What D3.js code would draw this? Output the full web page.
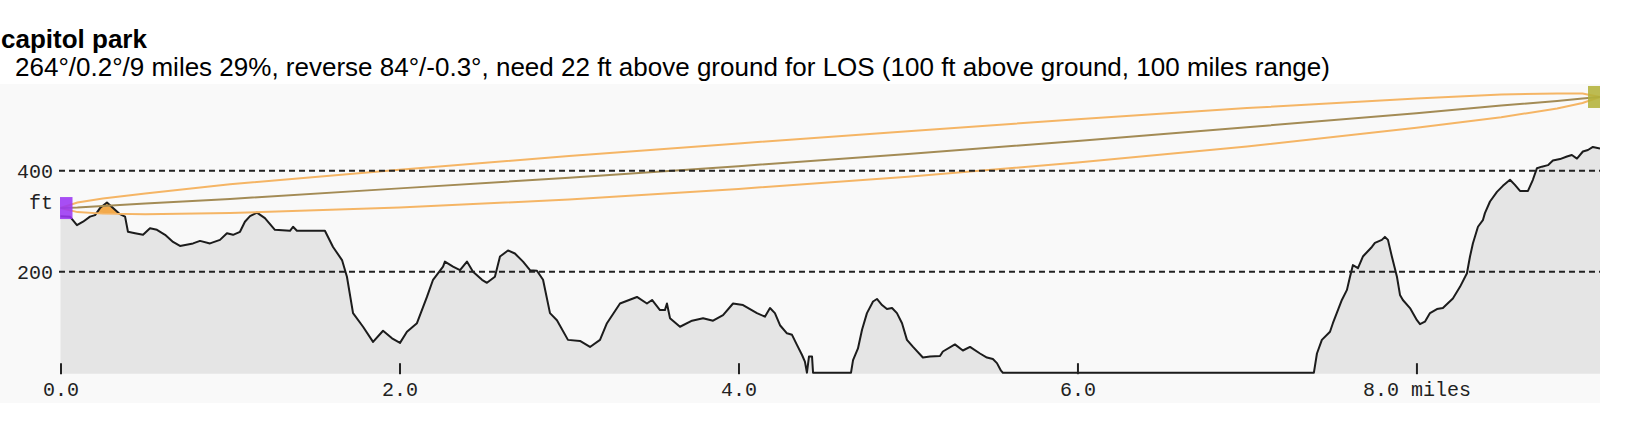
<!DOCTYPE html>
<html>
<head>
<meta charset="utf-8">
<script src="https://cdn.jsdelivr.net/npm/d3@7"></script>
<style>
  body { margin: 0; background: #fff; }
  svg { display: block; }
  .title { font: bold 26px "Liberation Sans", Arial, sans-serif; fill: #000; }
  .subtitle { font: 26px "Liberation Sans", Arial, sans-serif; fill: #000; }
  .mono { font: 20px "Liberation Mono", "DejaVu Sans Mono", monospace; fill: #222; }
</style>
</head>
<body>
<div id="chart"></div>
<script>
// terrain profile (distance in miles, elevation in ft)
const terrainMiles = [0, 0.056, 0.097, 0.133, 0.174, 0.204, 0.233, 0.274, 0.310, 0.351,
  0.381, 0.398, 0.440, 0.487, 0.528, 0.569, 0.617, 0.664, 0.705, 0.782,
  0.823, 0.882, 0.941, 0.982, 1.018, 1.059, 1.088, 1.118, 1.159, 1.206,
  1.265, 1.354, 1.372, 1.395, 1.560, 1.608, 1.661, 1.690, 1.726, 1.785,
  1.844, 1.903, 1.956, 2.003, 2.044, 2.103, 2.162, 2.198, 2.257, 2.268,
  2.316, 2.357, 2.398, 2.434, 2.487, 2.516, 2.563, 2.593, 2.640, 2.681,
  2.729, 2.770, 2.811, 2.847, 2.888, 2.929, 2.994, 3.065, 3.124, 3.183,
  3.224, 3.301, 3.401, 3.460, 3.490, 3.537, 3.566, 3.578, 3.596, 3.655,
  3.726, 3.791, 3.850, 3.909, 3.968, 4.027, 4.109, 4.156, 4.186, 4.215,
  4.245, 4.286, 4.316, 4.345, 4.375, 4.392, 4.404, 4.416, 4.434, 4.440,
  4.664, 4.676, 4.705, 4.729, 4.758, 4.794, 4.817, 4.847, 4.876, 4.906,
  4.935, 4.965, 4.994, 5.030, 5.088, 5.130, 5.189, 5.206, 5.277, 5.324,
  5.366, 5.425, 5.466, 5.501, 5.525, 5.549, 5.560, 7.395, 7.413, 7.442,
  7.490, 7.507, 7.560, 7.590, 7.608, 7.625, 7.655, 7.684, 7.737, 7.755,
  7.796, 7.814, 7.832, 7.855, 7.885, 7.903, 7.920, 7.962, 8.003, 8.021,
  8.050, 8.080, 8.121, 8.156, 8.215, 8.257, 8.298, 8.316, 8.333, 8.363,
  8.392, 8.404, 8.434, 8.475, 8.510, 8.552, 8.581, 8.611, 8.658, 8.687,
  8.711, 8.740, 8.776, 8.805, 8.847, 8.888, 8.917, 8.947, 8.982, 9.012,
  9.041, 9.083];
const terrainFeet = [310, 309, 292, 299, 309, 312, 326, 337, 326, 314,
  309, 279, 276, 273, 286, 283, 273, 259, 251, 256,
  261, 256, 263, 276, 273, 279, 299, 310, 317, 306,
  283, 281, 289, 281, 281, 249, 223, 190, 118, 91,
  61, 83, 68, 59, 81, 98, 150, 184, 210, 220,
  210, 203, 220, 200, 184, 178, 190, 230, 242, 236,
  220, 203, 202, 184, 118, 104, 65, 63, 51, 65,
  98, 137, 150, 137, 144, 124, 124, 137, 108, 91,
  103, 108, 103, 114, 137, 134, 118, 111, 128, 118,
  94, 78, 75, 55, 35, 22, 0, 32, 32, 0,
  0, 25, 48, 85, 118, 141, 146, 134, 126, 128,
  118, 98, 65, 51, 30, 32, 33, 42, 56, 44,
  51, 38, 30, 27, 19, 4, 0, 0, 38, 65,
  81, 98, 144, 164, 190, 213, 207, 230, 249, 257,
  263, 269, 263, 230, 190, 154, 144, 128, 104, 96,
  101, 118, 126, 128, 147, 170, 197, 230, 256, 289,
  302, 316, 339, 358, 370, 382, 372, 360, 360, 382,
  405, 408, 411, 420, 423, 428, 431, 424, 438, 441,
  447, 444];

// line of sight and fresnel zone edges (ft), sampled along the path
const losMiles = [0, 0.1, 0.25, 0.5, 1, 2, 3, 4, 5, 6, 7, 8, 8.5, 8.83, 8.98, 9.083];
const losFeet = [326, 327, 330, 335, 344, 365, 386, 409, 433, 459, 486, 514, 529, 538, 543, 546];
const fresnelTop = [326, 337, 345, 355, 373, 402, 429, 454, 478, 502, 524, 543, 551, 553, 553, 546];
const fresnelBottom = [326, 318, 315, 314, 316, 327, 343, 364, 388, 416, 448, 485, 506, 523, 534, 546];

const gridFeet = [200, 400];
const tickMiles = [0, 2, 4, 6, 8];
const tickLabels = ["0.0", "2.0", "4.0", "6.0", "8.0 miles"];

const titleText = "capitol park";
const subtitleText = "264°/0.2°/9 miles 29%, reverse 84°/-0.3°, need 22 ft above ground for LOS (100 ft above ground, 100 miles range)";

const width = 1626, height = 432;
const plot = { left: 60, right: 1600, top: 84, bottom: 403 };
const totalMiles = terrainMiles[terrainMiles.length - 1];

const x = d3.scaleLinear().domain([0, totalMiles]).range([60.5, 1600]);
const y = d3.scaleLinear().domain([0, 400]).range([372.7, 170.7]);

const terrain = terrainMiles.map((m, i) => ({ mi: m, ft: terrainFeet[i] }));
const los = losMiles.map((m, i) => ({ mi: m, c: losFeet[i], top: fresnelTop[i], bot: fresnelBottom[i] }));

const svg = d3.select("#chart").append("svg")
  .attr("width", width)
  .attr("height", height);

const defs = svg.append("defs");
defs.append("clipPath").attr("id", "plotClip")
  .append("rect")
  .attr("x", plot.left).attr("y", plot.top)
  .attr("width", plot.right - plot.left).attr("height", plot.bottom - plot.top);

// area above the lower fresnel edge, used to colour terrain that intrudes
defs.append("clipPath").attr("id", "fresnelClip")
  .append("path")
  .attr("d", d3.area()
    .x(d => x(d.mi))
    .y0(plot.top)
    .y1(d => y(d.bot))(los));

svg.append("text").attr("class", "title")
  .attr("x", 1).attr("y", 48)
  .text(titleText);

svg.append("text").attr("class", "subtitle")
  .attr("x", 15).attr("y", 76)
  .text(subtitleText);

svg.append("rect")
  .attr("x", 0).attr("y", plot.top)
  .attr("width", plot.right).attr("height", plot.bottom - plot.top)
  .attr("fill", "#f9f9f9");

const g = svg.append("g").attr("clip-path", "url(#plotClip)");

const terrainArea = d3.area()
  .x(d => x(d.mi))
  .y0(y(0) + 1)
  .y1(d => y(d.ft));

g.append("path")
  .attr("d", terrainArea(terrain))
  .attr("fill", "#e5e5e5");

g.append("path")
  .attr("d", terrainArea(terrain))
  .attr("fill", "#f2a94b")
  .attr("clip-path", "url(#fresnelClip)");

// dashed gridlines
svg.selectAll(".grid")
  .data(gridFeet)
  .enter().append("line")
  .attr("class", "grid")
  .attr("x1", plot.left - 1).attr("x2", plot.right)
  .attr("y1", d => y(d)).attr("y2", d => y(d))
  .attr("stroke", "#222")
  .attr("stroke-width", 2)
  .attr("stroke-dasharray", "6,4");

svg.selectAll(".ylabel")
  .data(gridFeet)
  .enter().append("text")
  .attr("class", "mono ylabel")
  .attr("x", 53)
  .attr("y", d => y(d))
  .attr("dy", "0.36em")
  .style("text-anchor", "end")
  .text(d => d);

svg.append("text")
  .attr("class", "mono")
  .attr("x", 53)
  .attr("y", y(400) + 31)
  .attr("dy", "0.36em")
  .style("text-anchor", "end")
  .text("ft");

// x axis ticks point up into the plot
const xAxis = d3.axisBottom(x)
  .tickValues(tickMiles)
  .tickSize(-11)
  .tickPadding(8)
  .tickFormat((d, i) => tickLabels[i]);

const axisG = svg.append("g")
  .attr("transform", `translate(0,${y(0) + 1.5})`)
  .call(xAxis);
axisG.select(".domain").remove();
axisG.selectAll(".tick line").attr("stroke", "#222").attr("stroke-width", 2);
axisG.selectAll(".tick text")
  .attr("class", "mono")
  .attr("font-size", null)
  .attr("font-family", null);
axisG.attr("font-size", null).attr("font-family", null);

g.append("path")
  .attr("d", d3.line().x(d => x(d.mi)).y(d => y(d.ft))(terrain))
  .attr("fill", "none")
  .attr("stroke", "#1c1c1c")
  .attr("stroke-width", 2)
  .attr("stroke-linejoin", "round");

const losLine = key => d3.line().x(d => x(d.mi)).y(d => y(d[key]))(los);

g.append("path").attr("d", losLine("top"))
  .attr("fill", "none").attr("stroke", "#f5b565").attr("stroke-width", 2);
g.append("path").attr("d", losLine("bot"))
  .attr("fill", "none").attr("stroke", "#f5b565").attr("stroke-width", 2);
g.append("path").attr("d", losLine("c"))
  .attr("fill", "none").attr("stroke", "#a38b55").attr("stroke-width", 2);

// antenna markers at both ends, slightly see-through
const ends = [
  { mi: 0, ft: losFeet[0], color: "#9b36f2" },
  { mi: totalMiles, ft: losFeet[losFeet.length - 1], color: "#b3b23a" }
];
g.selectAll(".end")
  .data(ends)
  .enter().append("rect")
  .attr("class", "end")
  .attr("x", d => x(d.mi) - 12)
  .attr("y", d => y(d.ft) - 11)
  .attr("width", 24)
  .attr("height", 22)
  .attr("fill", d => d.color)
  .attr("fill-opacity", 0.88);
</script>
</body>
</html>
